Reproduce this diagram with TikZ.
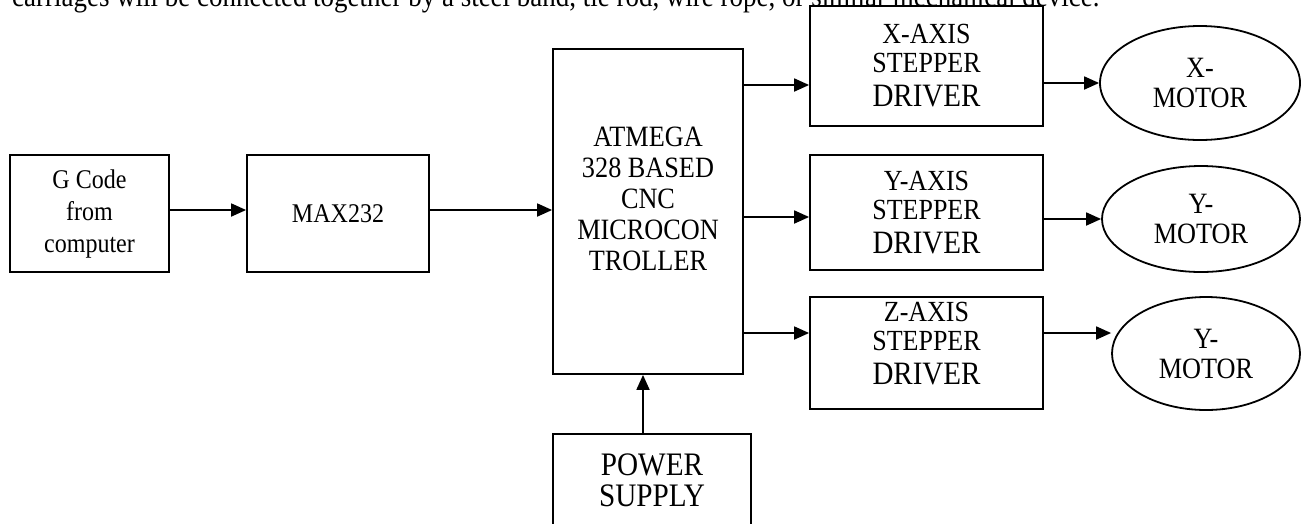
\documentclass[tikz,border=0pt]{standalone}
\usepackage{fontspec}
\setmainfont{Liberation Serif}[FakeStretch=0.89]
\usetikzlibrary{arrows.meta,shapes.geometric}
\begin{document}
\begin{tikzpicture}[x=1pt,y=-1pt,
  box/.style={draw,line width=1.8pt,inner sep=0pt,align=center,
    font=\fontsize{27}{32}\selectfont},
  drvbox/.style={box,minimum width=233pt,
    font=\fontsize{29.2}{29}\selectfont},
  motor/.style={draw,ellipse,line width=1.8pt,inner sep=0pt,align=center,
    font=\fontsize{29.5}{30}\selectfont},
  arr/.style={line width=1.8pt,-{Triangle[length=15pt,width=13pt]}}]
 \clip (0,0) rectangle (1306,523);
 \fill[white] (0,0) rectangle (1306,523);
 \node[anchor=base west,inner sep=0pt,font=\fontsize{30.3}{34}\selectfont] (note) at (12,6)
   {carriages will be connected together by a steel band, tie rod, wire rope, or similar mechanical device.};
 % input side
 \node[box,minimum width=159pt,minimum height=117pt] (gcode) at (89.5,213.5)
   {G Code\\from\\computer};
 \node[box,minimum width=182pt,minimum height=117pt] (max) at (338,213.5) {MAX232};
 \node[box,minimum width=190pt,minimum height=325pt,
   label={[align=center,yshift=13pt,font=\fontsize{29.5}{31}\selectfont]center:ATMEGA\\328 BASED\\CNC\\MICROCON\\TROLLER}]
   (micro) at (648,211.5) {};
 \node[box,minimum width=198pt,minimum height=120pt,
   label={[align=center,yshift=14pt,font=\fontsize{32.8}{31}\selectfont]center:POWER\\SUPPLY}]
   (power) at (652,494) {};
 % drivers
 \node[drvbox,minimum height=120pt] (xdrv) at (926.5,66)
   {X-AXIS\\STEPPER\\[5pt]{\fontsize{32.6}{35}\selectfont DRIVER}};
 \node[drvbox,minimum height=115pt] (ydrv) at (926.5,212.5)
   {Y-AXIS\\STEPPER\\[5pt]{\fontsize{32.6}{35}\selectfont DRIVER}};
 \node[drvbox,minimum height=112pt,
   label={[align=center,yshift=9pt,font=\fontsize{29.2}{29}\selectfont]center:Z-AXIS\\STEPPER\\[5pt]{\fontsize{32.6}{35}\selectfont DRIVER}}]
   (zdrv) at (926.5,353) {};
 % motors
 \node[motor,minimum width=200pt,minimum height=114pt] (xmot) at (1200,83) {X-\\MOTOR};
 \node[motor,minimum width=198pt,minimum height=106pt] (ymot) at (1201,219) {Y-\\MOTOR};
 \node[motor,minimum width=188pt,minimum height=113pt] (zmot) at (1206,353.5) {Y-\\MOTOR};
 % connectors
 \coordinate (xin) at ([yshift=-19pt]xdrv.west);
 \coordinate (yin) at ([yshift=-4.5pt]ydrv.west);
 \coordinate (zin) at ([yshift=20pt]zdrv.west);
 \coordinate (zout) at ([yshift=20pt]zdrv.east);
 \coordinate (pin) at ([xshift=-5pt]micro.south);
 \draw[arr] ([yshift=3.5pt]gcode.east) -- ([yshift=3.5pt]max.west);
 \draw[arr] ([yshift=3.5pt]max.east) -- ([yshift=3.5pt]max.east -| micro.west);
 \draw[arr] (micro.east |- xin) -- (xin);
 \draw[arr] (micro.east |- yin) -- (yin);
 \draw[arr] (micro.east |- zin) -- (zin);
 \draw[arr] (power.north -| pin) -- (pin);
 \draw[arr] (xdrv.east |- xmot.west) -- (xmot.west);
 \draw[arr] (ydrv.east |- ymot.west) -- (ymot.west);
 \draw[arr] (zout) -- (zout -| zmot.west);
\end{tikzpicture}
\end{document}
